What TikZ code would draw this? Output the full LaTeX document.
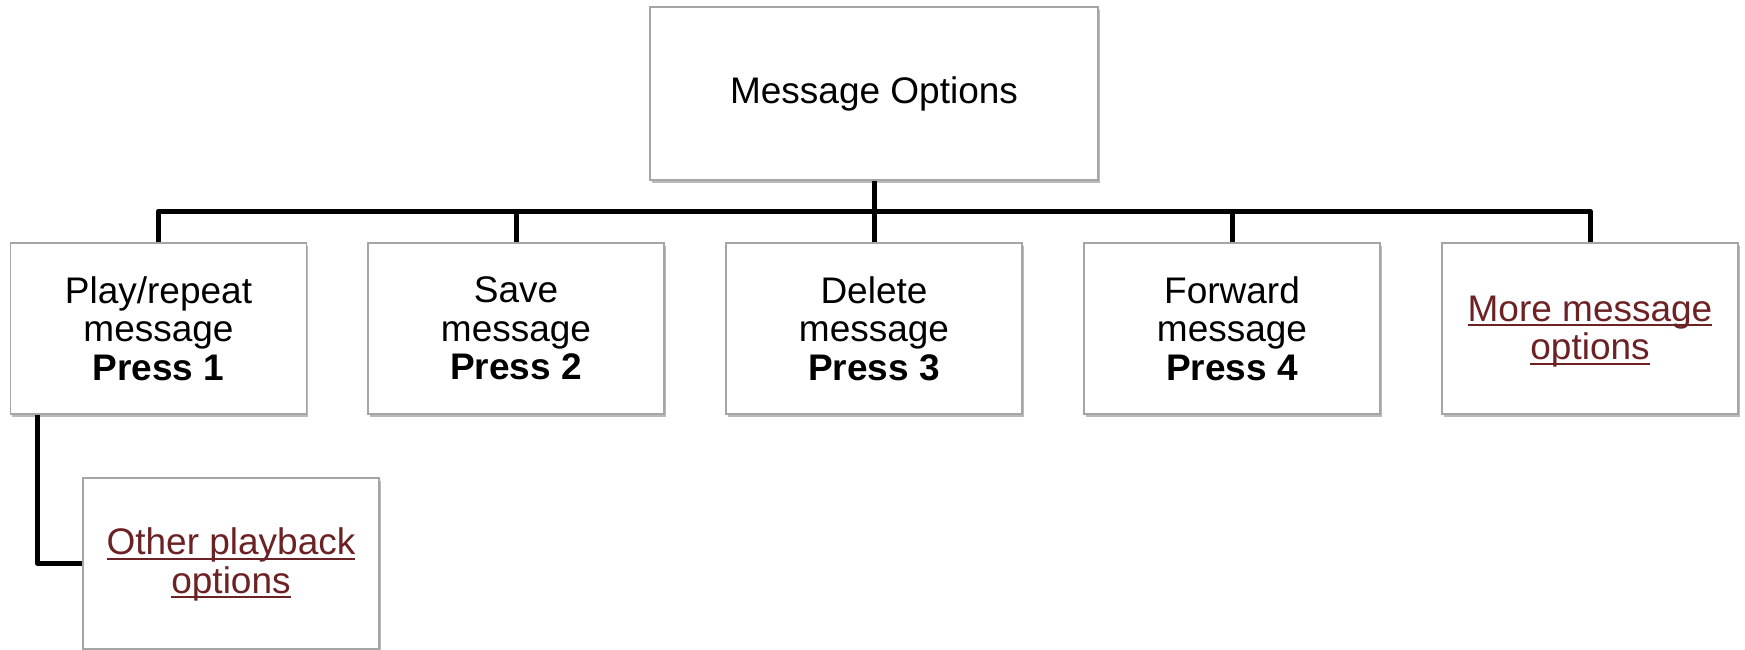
\documentclass[tikz,border=0pt]{standalone}
\usepackage{fontspec}
\setmainfont{Liberation Sans}
\usetikzlibrary{shadows}
\definecolor{linkred}{RGB}{108,34,36}
\definecolor{boxgray}{RGB}{165,165,165}
\newcommand\ulink[1]{\setbox0\hbox{#1}\rlap{\rule[-5pt]{\wd0}{2pt}}\box0}
\tikzset{
  boxfont/.style={font=\fontsize{37}{38.5}\selectfont},
  box/.style={draw=boxgray, line width=1.5pt, fill=white, minimum width=296pt, minimum height=171pt,
    align=center, inner sep=0pt, boxfont,
    drop shadow={shadow xshift=1.5pt, shadow yshift=-3pt, fill=black!45, opacity=0.6}},
  conn/.style={line width=5pt, line join=round, black},
  linktext/.style={text=linkred, align=center, inner sep=0pt, boxfont}
}
\begin{document}
\begin{tikzpicture}[x=1pt,y=-1pt]
\useasboundingbox[fill=white] (0,0) rectangle (1745,650);
\node[box, minimum width=448pt, minimum height=173pt] (top) at (874,93.5) {\raisebox{-3pt}{Message Options}};
\node[box] (b1) at (158.5,328.5) {Play/repeat\\message\\\textbf{Press 1}};
\node[box] (b2) at (516,328.5) {Save\\message\\\textbf{Press 2}};
\node[box] (b3) at (874,328.5) {Delete\\message\\\textbf{Press 3}};
\node[box] (b4) at (1232,328.5) {Forward\\message\\\textbf{Press 4}};
\node[box] (b5) at (1590,328.5) {};
\node[linktext] (b5t) at ([yshift=-3pt]b5.center) {\ulink{More message}\\\ulink{options}};
\node[box] (child) at (231,563.5) {};
\node[linktext] (childt) at ([yshift=-1pt]child.center) {\ulink{Other playback}\\\ulink{options}};
\coordinate (bus) at (874,211);
\draw[conn] (top.south) -- (bus);
\draw[conn] (b1.north) -- (b1.north |- bus) -- (b5.north |- bus) -- (b5.north);
\draw[conn] (b2.north) -- (b2.north |- bus);
\draw[conn] (b3.north) -- (b3.north |- bus);
\draw[conn] (b4.north) -- (b4.north |- bus);
\draw[conn] ([xshift=28pt]b1.south west) |- (child.west);
\end{tikzpicture}
\end{document}
